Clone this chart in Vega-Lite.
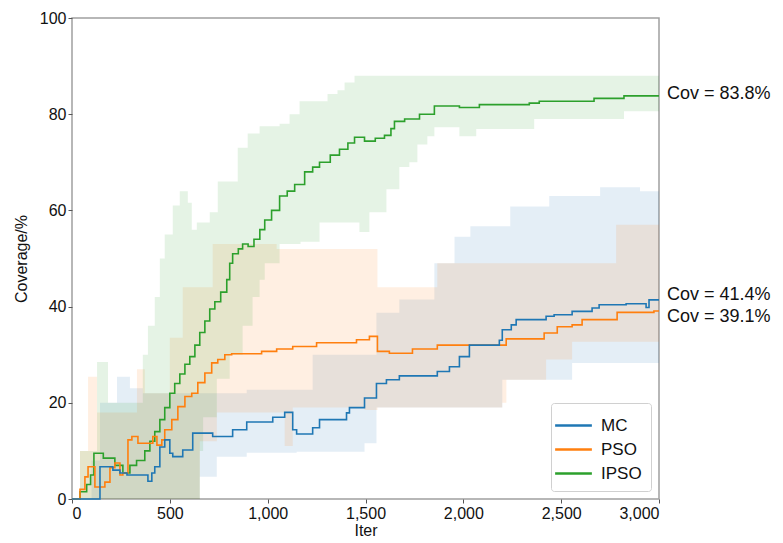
{
  "$schema": "https://vega.github.io/schema/vega-lite/v6.json",
  "autosize": {"type": "none"},
  "width": 587,
  "height": 481,
  "padding": {"left": 72, "top": 18, "right": 124, "bottom": 44},
  "background": "white",
  "config": {
    "font": "Liberation Sans",
    "view": {"stroke": "#a0a0a0", "strokeWidth": 1.5},
    "axis": {"grid": false, "domain": false, "tickColor": "#555", "tickSize": 4, "labelFontSize": 16, "labelColor": "#111", "titleFontSize": 16, "titleFontWeight": "normal", "titleColor": "#111", "labelPadding": 2},
    "legend": {"orient": "bottom-right", "fillColor": "white", "strokeColor": "#d0d0d0", "padding": 9, "cornerRadius": 3, "labelFontSize": 17, "labelColor": "#111", "labelOffset": 14, "symbolType": "M-1.5,0H1.5", "symbolStrokeWidth": 2.5, "symbolSize": 600, "rowPadding": 2, "offset": 8}
  },
  "datasets": {
    "lines": [
      {"m": "IPSO", "x": 0, "y": 0}, {"m": "IPSO", "x": 41, "y": 1.5}, {"m": "IPSO", "x": 75, "y": 3}, {"m": "IPSO", "x": 95, "y": 5}, {"m": "IPSO", "x": 112, "y": 9.5}, {"m": "IPSO", "x": 160, "y": 8.5}, {"m": "IPSO", "x": 219, "y": 7}, {"m": "IPSO", "x": 260, "y": 5.4}, {"m": "IPSO", "x": 296, "y": 7}, {"m": "IPSO", "x": 330, "y": 8}, {"m": "IPSO", "x": 372, "y": 10}, {"m": "IPSO", "x": 398, "y": 12}, {"m": "IPSO", "x": 423, "y": 14}, {"m": "IPSO", "x": 449, "y": 16.5}, {"m": "IPSO", "x": 474, "y": 19}, {"m": "IPSO", "x": 500, "y": 22}, {"m": "IPSO", "x": 525, "y": 24}, {"m": "IPSO", "x": 551, "y": 26}, {"m": "IPSO", "x": 577, "y": 28}, {"m": "IPSO", "x": 602, "y": 29.6}, {"m": "IPSO", "x": 628, "y": 32}, {"m": "IPSO", "x": 653, "y": 34.6}, {"m": "IPSO", "x": 679, "y": 37}, {"m": "IPSO", "x": 704, "y": 39.5}, {"m": "IPSO", "x": 730, "y": 41}, {"m": "IPSO", "x": 760, "y": 43}, {"m": "IPSO", "x": 791, "y": 45.6}, {"m": "IPSO", "x": 806, "y": 49}, {"m": "IPSO", "x": 821, "y": 51}, {"m": "IPSO", "x": 850, "y": 52}, {"m": "IPSO", "x": 872, "y": 53}, {"m": "IPSO", "x": 900, "y": 52.5}, {"m": "IPSO", "x": 930, "y": 54}, {"m": "IPSO", "x": 960, "y": 56}, {"m": "IPSO", "x": 985, "y": 58}, {"m": "IPSO", "x": 1020, "y": 60}, {"m": "IPSO", "x": 1061, "y": 63}, {"m": "IPSO", "x": 1100, "y": 64}, {"m": "IPSO", "x": 1138, "y": 65.4}, {"m": "IPSO", "x": 1189, "y": 68}, {"m": "IPSO", "x": 1230, "y": 69}, {"m": "IPSO", "x": 1265, "y": 70}, {"m": "IPSO", "x": 1320, "y": 71.5}, {"m": "IPSO", "x": 1367, "y": 72.7}, {"m": "IPSO", "x": 1410, "y": 74}, {"m": "IPSO", "x": 1444, "y": 75.2}, {"m": "IPSO", "x": 1495, "y": 74.4}, {"m": "IPSO", "x": 1550, "y": 75}, {"m": "IPSO", "x": 1597, "y": 75.6}, {"m": "IPSO", "x": 1630, "y": 77}, {"m": "IPSO", "x": 1648, "y": 78.5}, {"m": "IPSO", "x": 1700, "y": 79}, {"m": "IPSO", "x": 1776, "y": 80}, {"m": "IPSO", "x": 1852, "y": 81.7}, {"m": "IPSO", "x": 1980, "y": 81.4}, {"m": "IPSO", "x": 2082, "y": 82}, {"m": "IPSO", "x": 2337, "y": 82.3}, {"m": "IPSO", "x": 2388, "y": 82.7}, {"m": "IPSO", "x": 2668, "y": 83.3}, {"m": "IPSO", "x": 2821, "y": 83.8}, {"m": "IPSO", "x": 3000, "y": 83.8},
      {"m": "PSO", "x": 0, "y": 0}, {"m": "PSO", "x": 41, "y": 2}, {"m": "PSO", "x": 66, "y": 4.6}, {"m": "PSO", "x": 82, "y": 6.7}, {"m": "PSO", "x": 117, "y": 2.5}, {"m": "PSO", "x": 168, "y": 3.5}, {"m": "PSO", "x": 194, "y": 6.5}, {"m": "PSO", "x": 219, "y": 7.5}, {"m": "PSO", "x": 245, "y": 5}, {"m": "PSO", "x": 260, "y": 5.4}, {"m": "PSO", "x": 286, "y": 12.3}, {"m": "PSO", "x": 306, "y": 13}, {"m": "PSO", "x": 337, "y": 11.6}, {"m": "PSO", "x": 413, "y": 13}, {"m": "PSO", "x": 434, "y": 11.2}, {"m": "PSO", "x": 459, "y": 12.3}, {"m": "PSO", "x": 474, "y": 14.4}, {"m": "PSO", "x": 510, "y": 16.5}, {"m": "PSO", "x": 541, "y": 19.2}, {"m": "PSO", "x": 577, "y": 21.3}, {"m": "PSO", "x": 612, "y": 22}, {"m": "PSO", "x": 643, "y": 24.2}, {"m": "PSO", "x": 679, "y": 26.2}, {"m": "PSO", "x": 714, "y": 28.3}, {"m": "PSO", "x": 745, "y": 29}, {"m": "PSO", "x": 781, "y": 30}, {"m": "PSO", "x": 816, "y": 30.2}, {"m": "PSO", "x": 969, "y": 30.7}, {"m": "PSO", "x": 1046, "y": 31.2}, {"m": "PSO", "x": 1128, "y": 31.7}, {"m": "PSO", "x": 1250, "y": 32.5}, {"m": "PSO", "x": 1454, "y": 33.1}, {"m": "PSO", "x": 1520, "y": 33.8}, {"m": "PSO", "x": 1561, "y": 30.7}, {"m": "PSO", "x": 1622, "y": 30.3}, {"m": "PSO", "x": 1740, "y": 31.2}, {"m": "PSO", "x": 1867, "y": 32}, {"m": "PSO", "x": 2219, "y": 33.3}, {"m": "PSO", "x": 2413, "y": 34.5}, {"m": "PSO", "x": 2480, "y": 35.8}, {"m": "PSO", "x": 2556, "y": 36.2}, {"m": "PSO", "x": 2607, "y": 37.3}, {"m": "PSO", "x": 2786, "y": 38.8}, {"m": "PSO", "x": 2974, "y": 39.1}, {"m": "PSO", "x": 3000, "y": 39.1},
      {"m": "MC", "x": 0, "y": 0}, {"m": "MC", "x": 143, "y": 6.7}, {"m": "MC", "x": 209, "y": 6}, {"m": "MC", "x": 245, "y": 5.4}, {"m": "MC", "x": 281, "y": 5}, {"m": "MC", "x": 388, "y": 3.7}, {"m": "MC", "x": 408, "y": 5.4}, {"m": "MC", "x": 423, "y": 6.7}, {"m": "MC", "x": 449, "y": 10.8}, {"m": "MC", "x": 474, "y": 12.3}, {"m": "MC", "x": 500, "y": 9.5}, {"m": "MC", "x": 515, "y": 8.8}, {"m": "MC", "x": 566, "y": 10.2}, {"m": "MC", "x": 617, "y": 13.7}, {"m": "MC", "x": 719, "y": 13}, {"m": "MC", "x": 821, "y": 14.4}, {"m": "MC", "x": 893, "y": 16}, {"m": "MC", "x": 1026, "y": 17}, {"m": "MC", "x": 1087, "y": 18}, {"m": "MC", "x": 1128, "y": 14.4}, {"m": "MC", "x": 1148, "y": 13.5}, {"m": "MC", "x": 1230, "y": 14.8}, {"m": "MC", "x": 1265, "y": 16.5}, {"m": "MC", "x": 1403, "y": 17.9}, {"m": "MC", "x": 1418, "y": 19}, {"m": "MC", "x": 1495, "y": 21}, {"m": "MC", "x": 1556, "y": 24}, {"m": "MC", "x": 1607, "y": 24.8}, {"m": "MC", "x": 1673, "y": 25.6}, {"m": "MC", "x": 1867, "y": 26.5}, {"m": "MC", "x": 1929, "y": 27.5}, {"m": "MC", "x": 1980, "y": 29.6}, {"m": "MC", "x": 2031, "y": 32}, {"m": "MC", "x": 2184, "y": 33}, {"m": "MC", "x": 2199, "y": 35.2}, {"m": "MC", "x": 2245, "y": 36.2}, {"m": "MC", "x": 2270, "y": 37.3}, {"m": "MC", "x": 2423, "y": 38}, {"m": "MC", "x": 2464, "y": 38.3}, {"m": "MC", "x": 2556, "y": 39}, {"m": "MC", "x": 2658, "y": 39.7}, {"m": "MC", "x": 2694, "y": 40.4}, {"m": "MC", "x": 2832, "y": 40.6}, {"m": "MC", "x": 2934, "y": 39.8}, {"m": "MC", "x": 2949, "y": 41.4}, {"m": "MC", "x": 3000, "y": 41.4}
    ],
    "bands": [
      {"m": "MC", "x": 0, "lo": 0, "hi": 0}, {"m": "MC", "x": 100, "lo": 0, "hi": 8}, {"m": "MC", "x": 143, "lo": 0, "hi": 20}, {"m": "MC", "x": 230, "lo": 0, "hi": 25.4}, {"m": "MC", "x": 296, "lo": 0, "hi": 23}, {"m": "MC", "x": 362, "lo": 0, "hi": 22}, {"m": "MC", "x": 653, "lo": 4.6, "hi": 22}, {"m": "MC", "x": 740, "lo": 8.8, "hi": 22}, {"m": "MC", "x": 893, "lo": 9.6, "hi": 22.7}, {"m": "MC", "x": 1148, "lo": 9.8, "hi": 22.7}, {"m": "MC", "x": 1230, "lo": 9.8, "hi": 30}, {"m": "MC", "x": 1495, "lo": 11.6, "hi": 30}, {"m": "MC", "x": 1556, "lo": 19, "hi": 38.7}, {"m": "MC", "x": 1673, "lo": 19, "hi": 41.5}, {"m": "MC", "x": 1852, "lo": 19, "hi": 49}, {"m": "MC", "x": 1955, "lo": 19, "hi": 54.5}, {"m": "MC", "x": 2036, "lo": 19, "hi": 56.7}, {"m": "MC", "x": 2199, "lo": 24.8, "hi": 56.7}, {"m": "MC", "x": 2240, "lo": 24.8, "hi": 60.8}, {"m": "MC", "x": 2439, "lo": 24.8, "hi": 63}, {"m": "MC", "x": 2556, "lo": 28.3, "hi": 63}, {"m": "MC", "x": 2699, "lo": 28.3, "hi": 64.8}, {"m": "MC", "x": 2903, "lo": 28.3, "hi": 64}, {"m": "MC", "x": 3000, "lo": 28.3, "hi": 64},
      {"m": "PSO", "x": 0, "lo": 0, "hi": 0}, {"m": "PSO", "x": 41, "lo": 0, "hi": 10}, {"m": "PSO", "x": 82, "lo": 0, "hi": 25.4}, {"m": "PSO", "x": 128, "lo": 0, "hi": 18}, {"m": "PSO", "x": 332, "lo": 0, "hi": 27}, {"m": "PSO", "x": 372, "lo": 0, "hi": 22}, {"m": "PSO", "x": 500, "lo": 0, "hi": 33.5}, {"m": "PSO", "x": 566, "lo": 0, "hi": 44}, {"m": "PSO", "x": 653, "lo": 12, "hi": 44}, {"m": "PSO", "x": 719, "lo": 12, "hi": 53}, {"m": "PSO", "x": 740, "lo": 18, "hi": 53}, {"m": "PSO", "x": 1046, "lo": 18, "hi": 52}, {"m": "PSO", "x": 1087, "lo": 11, "hi": 52}, {"m": "PSO", "x": 1128, "lo": 19, "hi": 52}, {"m": "PSO", "x": 1495, "lo": 18.5, "hi": 52}, {"m": "PSO", "x": 1561, "lo": 19, "hi": 44}, {"m": "PSO", "x": 1867, "lo": 19, "hi": 49}, {"m": "PSO", "x": 2199, "lo": 20, "hi": 49}, {"m": "PSO", "x": 2220, "lo": 24.8, "hi": 49}, {"m": "PSO", "x": 2423, "lo": 29, "hi": 49}, {"m": "PSO", "x": 2556, "lo": 32.7, "hi": 49}, {"m": "PSO", "x": 2781, "lo": 32.7, "hi": 57}, {"m": "PSO", "x": 3000, "lo": 32.7, "hi": 57},
      {"m": "IPSO", "x": 0, "lo": 0, "hi": 0}, {"m": "IPSO", "x": 41, "lo": 0, "hi": 10}, {"m": "IPSO", "x": 128, "lo": 0, "hi": 28.5}, {"m": "IPSO", "x": 184, "lo": 0, "hi": 20}, {"m": "IPSO", "x": 362, "lo": 0, "hi": 30}, {"m": "IPSO", "x": 388, "lo": 0, "hi": 36}, {"m": "IPSO", "x": 423, "lo": 0, "hi": 42}, {"m": "IPSO", "x": 449, "lo": 0, "hi": 50}, {"m": "IPSO", "x": 474, "lo": 0, "hi": 55}, {"m": "IPSO", "x": 515, "lo": 0, "hi": 61}, {"m": "IPSO", "x": 551, "lo": 0, "hi": 64}, {"m": "IPSO", "x": 592, "lo": 0, "hi": 61.6}, {"m": "IPSO", "x": 612, "lo": 0, "hi": 56}, {"m": "IPSO", "x": 638, "lo": 0, "hi": 57.5}, {"m": "IPSO", "x": 653, "lo": 10, "hi": 57.5}, {"m": "IPSO", "x": 670, "lo": 17, "hi": 57.5}, {"m": "IPSO", "x": 704, "lo": 17, "hi": 59.6}, {"m": "IPSO", "x": 740, "lo": 25, "hi": 59.6}, {"m": "IPSO", "x": 745, "lo": 25, "hi": 66}, {"m": "IPSO", "x": 806, "lo": 30, "hi": 66}, {"m": "IPSO", "x": 847, "lo": 30, "hi": 73}, {"m": "IPSO", "x": 872, "lo": 36, "hi": 73}, {"m": "IPSO", "x": 898, "lo": 36, "hi": 76}, {"m": "IPSO", "x": 923, "lo": 42, "hi": 76}, {"m": "IPSO", "x": 959, "lo": 45.6, "hi": 77.5}, {"m": "IPSO", "x": 985, "lo": 49, "hi": 77.5}, {"m": "IPSO", "x": 1061, "lo": 53, "hi": 78}, {"m": "IPSO", "x": 1112, "lo": 53, "hi": 80}, {"m": "IPSO", "x": 1163, "lo": 53, "hi": 82.7}, {"m": "IPSO", "x": 1168, "lo": 53.5, "hi": 82.7}, {"m": "IPSO", "x": 1265, "lo": 57.5, "hi": 82.7}, {"m": "IPSO", "x": 1306, "lo": 57.5, "hi": 84.2}, {"m": "IPSO", "x": 1357, "lo": 57.5, "hi": 85}, {"m": "IPSO", "x": 1393, "lo": 57.5, "hi": 86.6}, {"m": "IPSO", "x": 1444, "lo": 57.5, "hi": 88}, {"m": "IPSO", "x": 1469, "lo": 55.5, "hi": 88}, {"m": "IPSO", "x": 1520, "lo": 59.6, "hi": 88}, {"m": "IPSO", "x": 1607, "lo": 64.4, "hi": 88}, {"m": "IPSO", "x": 1673, "lo": 69, "hi": 88}, {"m": "IPSO", "x": 1724, "lo": 70, "hi": 88}, {"m": "IPSO", "x": 1765, "lo": 73.7, "hi": 88}, {"m": "IPSO", "x": 1816, "lo": 75.4, "hi": 88}, {"m": "IPSO", "x": 1852, "lo": 77.3, "hi": 88}, {"m": "IPSO", "x": 1980, "lo": 75.4, "hi": 88}, {"m": "IPSO", "x": 2066, "lo": 76.9, "hi": 88}, {"m": "IPSO", "x": 2362, "lo": 79, "hi": 88}, {"m": "IPSO", "x": 2821, "lo": 80.6, "hi": 88}, {"m": "IPSO", "x": 3000, "lo": 80.6, "hi": 88}
    ],
    "labels": [
      {"x": 3000, "y": 84.2, "t": "Cov = 83.8%"},
      {"x": 3000, "y": 42.5, "t": "Cov = 41.4%"},
      {"x": 3000, "y": 37.9, "t": "Cov = 39.1%"}
    ]
  },
  "encoding": {
    "x": {"field": "x", "type": "quantitative", "scale": {"domain": [0, 3000], "nice": false}, "axis": {"values": [0, 500, 1000, 1500, 2000, 2500, 3000], "format": ",.0f", "title": "Iter", "titlePadding": 1}}
  },
  "layer": [
    {
      "data": {"name": "bands"},
      "transform": [{"filter": "datum.m === 'MC'"}],
      "mark": {"type": "area", "interpolate": "step-after", "opacity": 0.12, "color": "#1f77b4"},
      "encoding": {
        "y": {"field": "lo", "type": "quantitative", "scale": {"domain": [0, 100], "nice": false}, "axis": {"values": [0, 20, 40, 60, 80, 100], "title": "Coverage/%", "titlePadding": 10}},
        "y2": {"field": "hi"}
      }
    },
    {
      "data": {"name": "bands"},
      "transform": [{"filter": "datum.m === 'PSO'"}],
      "mark": {"type": "area", "interpolate": "step-after", "opacity": 0.12, "color": "#ff7f0e"},
      "encoding": {
        "y": {"field": "lo", "type": "quantitative"},
        "y2": {"field": "hi"}
      }
    },
    {
      "data": {"name": "bands"},
      "transform": [{"filter": "datum.m === 'IPSO'"}],
      "mark": {"type": "area", "interpolate": "step-after", "opacity": 0.12, "color": "#2ca02c"},
      "encoding": {
        "y": {"field": "lo", "type": "quantitative"},
        "y2": {"field": "hi"}
      }
    },
    {
      "data": {"name": "lines"},
      "mark": {"type": "line", "interpolate": "step-after", "strokeWidth": 1.6},
      "encoding": {
        "y": {"field": "y", "type": "quantitative"},
        "color": {"field": "m", "type": "nominal", "title": null, "sort": ["MC", "PSO", "IPSO"], "scale": {"domain": ["MC", "PSO", "IPSO"], "range": ["#1f77b4", "#ff7f0e", "#2ca02c"]}}
      }
    },
    {
      "data": {"name": "labels"},
      "mark": {"type": "text", "align": "left", "baseline": "middle", "dx": 8, "fontSize": 18, "color": "#111"},
      "encoding": {
        "y": {"field": "y", "type": "quantitative"},
        "text": {"field": "t"}
      }
    }
  ]
}
